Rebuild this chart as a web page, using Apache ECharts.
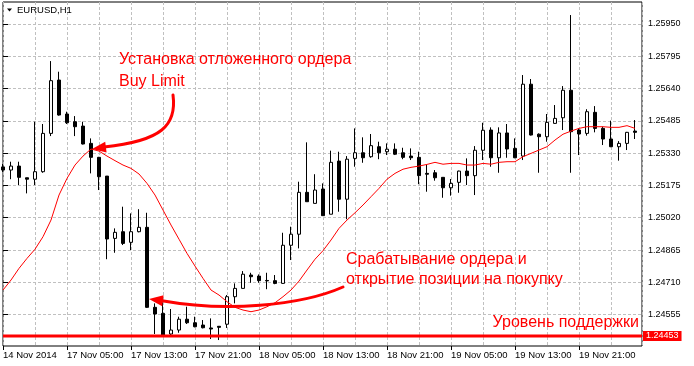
<!DOCTYPE html>
<html><head><meta charset="utf-8">
<script src="https://cdn.jsdelivr.net/npm/echarts@6/dist/echarts.min.js"></script>
<style>html,body{margin:0;padding:0;background:#fff}#c{width:694px;height:366px}</style>
</head><body><div id="c"></div>
<script>
// EURUSD H1 candles (bar index 0..79)
const opens = [1.25264,1.25249,1.25268,1.25212,1.25205,1.25241,1.25425,1.25681,1.25518,1.25481,
 1.25460,1.25377,1.25310,1.25220,1.24921,1.24953,1.24902,1.24953,1.24974,1.24590,
 1.24561,1.24462,1.24481,1.24533,1.24516,1.24505,1.24491,1.24499,1.24509,1.24641,
 1.24681,1.24745,1.24740,1.24719,1.24718,1.24705,1.24888,1.24941,1.25142,1.25089,
 1.25158,1.25037,1.25292,1.25109,1.25305,1.25332,1.25313,1.25361,1.25337,1.25349,
 1.25332,1.25316,1.25310,1.25233,1.25236,1.25214,1.25164,1.25190,1.25244,1.25222,
 1.25344,1.25441,1.25308,1.25427,1.25353,1.25316,1.25661,1.25421,1.25409,1.25473,
 1.25500,1.25632,1.25441,1.25425,1.25526,1.25449,1.25398,1.25361,1.25377,1.25436];
const highs = [1.25278,1.25289,1.25289,1.25212,1.25481,1.25470,1.25772,1.25721,1.25529,1.25508,
 1.25481,1.25401,1.25312,1.25220,1.24969,1.25073,1.25041,1.25061,1.25044,1.24609,
 1.24614,1.24582,1.24545,1.24593,1.24545,1.24529,1.24537,1.24500,1.24649,1.24705,
 1.24764,1.24756,1.24748,1.24756,1.24745,1.24948,1.24977,1.25193,1.25382,1.25229,
 1.25185,1.25342,1.25337,1.25316,1.25449,1.25406,1.25422,1.25385,1.25377,1.25377,
 1.25356,1.25353,1.25337,1.25273,1.25249,1.25214,1.25206,1.25246,1.25305,1.25364,
 1.25476,1.25454,1.25454,1.25470,1.25401,1.25705,1.25686,1.25425,1.25518,1.25561,
 1.25652,1.25993,1.25449,1.25541,1.25556,1.25457,1.25486,1.25388,1.25432,1.25489];
const lows = [1.25240,1.25205,1.25177,1.25137,1.25177,1.25236,1.25412,1.25510,1.25470,1.25412,
 1.25372,1.25233,1.25153,1.24821,1.24852,1.24889,1.24865,1.24950,1.24587,1.24462,
 1.24449,1.24457,1.24468,1.24510,1.24494,1.24489,1.24438,1.24433,1.24491,1.24609,
 1.24681,1.24708,1.24708,1.24677,1.24701,1.24703,1.24817,1.24873,1.25097,1.25089,
 1.25030,1.25037,1.25049,1.25013,1.25265,1.25284,1.25308,1.25301,1.25321,1.25321,
 1.25301,1.25297,1.25181,1.25145,1.25198,1.25116,1.25126,1.25140,1.25177,1.25129,
 1.25297,1.25265,1.25236,1.25308,1.25306,1.25297,1.25415,1.25236,1.25385,1.25471,
 1.25441,1.25236,1.25321,1.25414,1.25430,1.25369,1.25359,1.25294,1.25345,1.25398];
const closes = [1.25249,1.25268,1.25214,1.25205,1.25241,1.25425,1.25678,1.25513,1.25476,1.25457,
 1.25374,1.25310,1.25217,1.24918,1.24950,1.24897,1.24953,1.24974,1.24590,1.24558,
 1.24454,1.24481,1.24533,1.24516,1.24497,1.24492,1.24486,1.24494,1.24641,1.24681,
 1.24749,1.24737,1.24718,1.24717,1.24705,1.24888,1.24941,1.25142,1.25097,1.25153,
 1.25030,1.25286,1.25109,1.25301,1.25332,1.25308,1.25366,1.25332,1.25349,1.25325,
 1.25310,1.25308,1.25222,1.25229,1.25212,1.25164,1.25185,1.25244,1.25222,1.25344,
 1.25440,1.25308,1.25427,1.25350,1.25308,1.25661,1.25417,1.25409,1.25478,1.25497,
 1.25632,1.25433,1.25422,1.25529,1.25449,1.25398,1.25361,1.25377,1.25430,1.25430];
// Moving average (red thin line)
const maValues = [1.24673,1.24721,1.24777,1.24825,1.24869,1.24929,1.25009,1.25129,1.25209,1.25273,
 1.25316,1.25350,1.25340,1.25316,1.25294,1.25273,1.25257,1.25230,1.25185,1.25129,
 1.25057,1.24985,1.24917,1.24849,1.24788,1.24729,1.24673,1.24649,1.24617,1.24590,
 1.24577,1.24569,1.24577,1.24593,1.24612,1.24641,1.24673,1.24716,1.24769,1.24821,
 1.24862,1.24913,1.24969,1.25009,1.25044,1.25081,1.25121,1.25161,1.25205,1.25233,
 1.25253,1.25262,1.25268,1.25276,1.25286,1.25277,1.25281,1.25281,1.25273,1.25273,
 1.25281,1.25277,1.25286,1.25289,1.25289,1.25313,1.25329,1.25345,1.25361,1.25393,
 1.25421,1.25436,1.25449,1.25457,1.25457,1.25457,1.25454,1.25454,1.25462,1.25449];
const xTickBars = [0,8,16,24,32,40,48,56,64,72];
const xTickLabels = ['14 Nov 2014','17 Nov 05:00','17 Nov 13:00','17 Nov 21:00','18 Nov 05:00',
 '18 Nov 13:00','18 Nov 21:00','19 Nov 05:00','19 Nov 13:00','19 Nov 21:00'];
const yTickValues = [1.24555,1.24710,1.24865,1.25020,1.25175,1.25330,1.25485,1.25640,1.25795,1.25950];
const supportLevel = 1.24453;
const titleText = 'EURUSD,H1';
const note1 = ['Установка отложенного ордера','Buy Limit'];
const note2 = ['Срабатывание ордера и','открытие позиции на покупку'];
const note3 = 'Уровень поддержки';

const chart = echarts.init(document.getElementById('c'));
const candleData = opens.map((o,i)=>[i, o, closes[i], lows[i], highs[i]]);
const maData = maValues.map((v,i)=>[i, v]);
const red = '#ff0000';
const FONT = '"Liberation Sans", Arial, sans-serif';
const xMax = 79.875, yMin = 1.244044, yMax = 1.260556;
const supportData = [[0, supportLevel], [xMax, supportLevel]];
const gridLine = {show:true, lineStyle:{color:'#c0c0c0', type:[3,2], width:1}};
const annFont = '16px ' + FONT;

chart.setOption({
  animation:false,
  backgroundColor:'#fff',
  textStyle:{fontFamily:FONT},
  grid:{left:3, right:52, top:2, bottom:20, show:true, borderColor:'#000', borderWidth:1, backgroundColor:'#fff'},
  xAxis:[
    {type:'value', min:0, max:xMax, interval:4, axisLine:{show:false}, axisTick:{show:false},
     axisLabel:{show:false}, splitLine:gridLine},
    {type:'value', min:0, max:xMax, position:'bottom', axisLine:{show:false}, splitLine:{show:false},
     axisTick:{show:true, customValues:xTickBars, length:4, lineStyle:{color:'#000'}},
     axisLabel:{show:true, customValues:xTickBars, formatter:v=>{const k=xTickBars.indexOf(v);return k<0?'':xTickLabels[k];},
       align:'left', margin:4, fontSize:9.5, color:'#000', verticalAlign:'top', lineHeight:11, hideOverlap:false}}
  ],
  yAxis:{type:'value', position:'right', min:yMin, max:yMax, axisLine:{show:false},
    axisTick:{show:true, customValues:yTickValues, length:5, lineStyle:{color:'#000'}},
    axisLabel:{show:true, customValues:yTickValues, formatter:v=>v.toFixed(5), margin:6, fontSize:9, color:'#000'},
    splitLine:gridLine},
  series:[
    {type:'candlestick', xAxisIndex:0, data:candleData, barWidth:4, silent:true,
     itemStyle:{color:'#fff', color0:'#000', borderColor:'#000', borderColor0:'#000', borderWidth:1}},
    {type:'line', xAxisIndex:0, data:maData, symbol:'none', showSymbol:false, silent:true, z:3,
     lineStyle:{color:red, width:1}},
    {type:'line', xAxisIndex:0, data:supportData, symbol:'none', showSymbol:false, silent:true, z:4,
     lineStyle:{color:red, width:3}, clip:false,
     endLabel:{show:true, formatter:()=>supportLevel.toFixed(5), color:'#fff', backgroundColor:red,
       padding:[1,3,0,3], distance:1, fontSize:9, fontFamily:FONT}}
  ],
  graphic:[
    {type:'polygon', z:100, shape:{points:[[7,8.5],[12,8.5],[9.5,11.5]]}, style:{fill:'#000'}},
    {type:'text', z:100, x:17, y:10, style:{text:titleText, fill:'#000', font:'9.5px '+FONT, verticalAlign:'middle'}},
    {type:'text', z:100, x:119, y:60, style:{text:note1[0], fill:red, font:annFont, verticalAlign:'middle'}},
    {type:'text', z:100, x:119, y:82, style:{text:note1[1], fill:red, font:annFont, verticalAlign:'middle'}},
    {type:'text', z:100, x:346, y:260, style:{text:note2[0], fill:red, font:annFont, verticalAlign:'middle'}},
    {type:'text', z:100, x:346, y:280, style:{text:note2[1], fill:red, font:annFont, verticalAlign:'middle'}},
    {type:'text', z:100, x:639, y:323, style:{text:note3, fill:red, font:annFont, align:'right', verticalAlign:'middle'}},
    {type:'bezierCurve', z:100, shape:{x1:173,y1:95,cpx1:177,cpy1:125,cpx2:162,cpy2:141,x2:104,y2:147},
     style:{stroke:red, lineWidth:3, fill:null, lineCap:'round'}},
    {type:'polygon', z:100, shape:{points:[[92,149],[105.2,141.7],[106.6,152.6]]}, style:{fill:red}},
    {type:'bezierCurve', z:100, shape:{x1:343,y1:287,cpx1:300,cpy1:306,cpx2:225,cpy2:312,x2:162,y2:300.7},
     style:{stroke:red, lineWidth:3, fill:null, lineCap:'round'}},
    {type:'polygon', z:100, shape:{points:[[149,299],[163.6,295.2],[162.2,306.2]]}, style:{fill:red}}
  ]
});
</script>
</body></html>
